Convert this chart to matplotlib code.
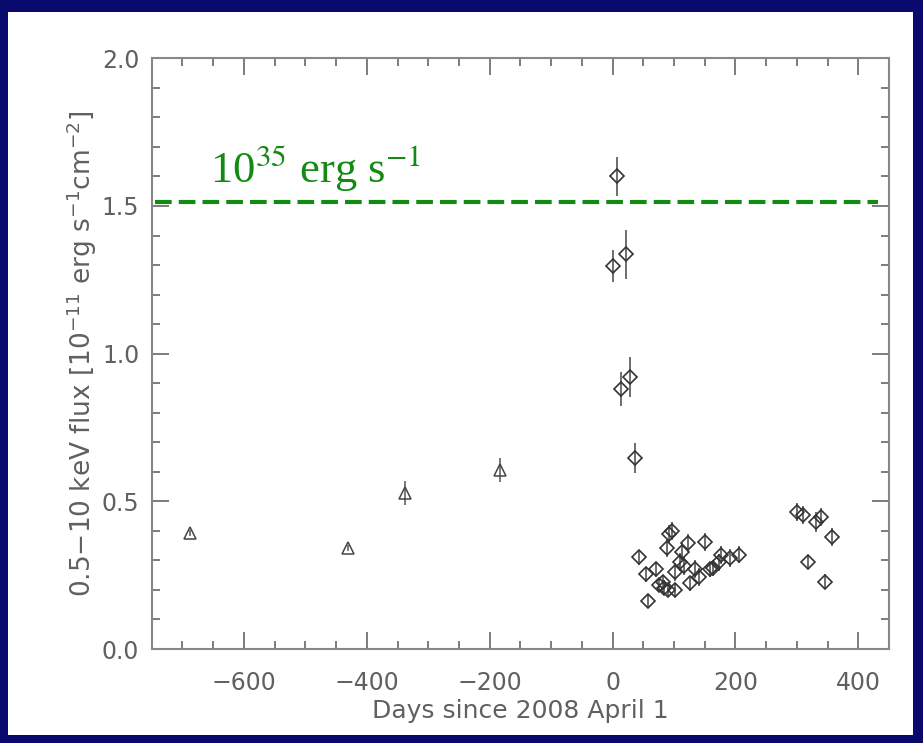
import matplotlib
matplotlib.use("Agg")
import matplotlib.pyplot as plt
from matplotlib.patches import Rectangle
from matplotlib.ticker import MultipleLocator, FormatStrFormatter

# ── data (days since 2008 April 1, flux in 1e-11 erg/s/cm^2) ──────────────────
tri_days = [-688, -430, -338, -183]
tri_flux = [0.393, 0.342, 0.528, 0.606]
tri_err = [0.01, 0.01, 0.04, 0.04]

dia_days = [8, 1, 22, 14, 29, 37,
            43, 57, 54, 71, 75, 84, 82, 90, 88, 92, 96, 101, 101, 110,
            113, 116, 122, 126, 135, 141, 150, 158, 164, 173, 177, 191, 206,
            301, 310, 331, 339, 357, 318, 345]
dia_flux = [1.60, 1.296, 1.337, 0.88, 0.92, 0.646,
            0.31, 0.163, 0.253, 0.27, 0.217, 0.207, 0.227, 0.20, 0.343, 0.39, 0.40, 0.20, 0.26, 0.295,
            0.33, 0.28, 0.358, 0.222, 0.27, 0.243, 0.363, 0.27, 0.273, 0.293, 0.318, 0.307, 0.32,
            0.465, 0.453, 0.43, 0.448, 0.38, 0.295, 0.228]
dia_err = [0.066, 0.054, 0.083, 0.057, 0.068, 0.05,
           0.025, 0.02, 0.025, 0.025, 0.025, 0.025, 0.02, 0.02, 0.03, 0.03, 0.03, 0.025, 0.03, 0.03,
           0.03, 0.03, 0.03, 0.025, 0.03, 0.03, 0.03, 0.025, 0.025, 0.03, 0.03, 0.03, 0.03,
           0.03, 0.03, 0.035, 0.03, 0.03, 0.025, 0.025]

limit_flux = 1.513
limit_label = r"10$^{35}$ erg s$^{-1}$"

NAVY = "#0a0a6e"
GRAY = "#666666"

fig = plt.figure(figsize=(9.23, 7.43), dpi=100, facecolor=NAVY)
fig.patches.append(Rectangle((8 / 923, 8 / 743), 905 / 923, 723 / 743,
                             transform=fig.transFigure, facecolor="white",
                             edgecolor="none", zorder=-5))

ax = fig.add_axes([0.1644, 0.1265, 0.7988, 0.795])

ax.errorbar(tri_days, tri_flux, yerr=tri_err, fmt="^", ms=8, mfc="none",
            mec="#444444", mew=1.1, ecolor="#555555", elinewidth=1.1, capsize=0)
ax.errorbar(dia_days, dia_flux, yerr=dia_err, fmt="D", ms=7.5, mfc="none",
            mec="#333333", mew=1.2, ecolor="#555555", elinewidth=1.2, capsize=0)

ax.axhline(limit_flux, xmin=0.005, xmax=0.985, color="#138a13", lw=3,
           ls=(0, (4, 1.7)))
ax.text(-655, 1.577, limit_label, color="#138a13", fontsize=32,
        family="Liberation Serif", math_fontfamily="stix",
        ha="left", va="baseline")

ax.set_xlim(-750, 450)
ax.set_ylim(0, 2.0)
ax.xaxis.set_major_locator(MultipleLocator(200))
ax.xaxis.set_minor_locator(MultipleLocator(50))
ax.yaxis.set_major_locator(MultipleLocator(0.5))
ax.yaxis.set_minor_locator(MultipleLocator(0.1))
ax.yaxis.set_major_formatter(FormatStrFormatter("%.1f"))

ax.tick_params(which="both", direction="in", top=True, right=True,
               colors=GRAY, labelcolor="#606060", labelsize=17, width=1.2)
ax.tick_params(axis="x", which="major", length=12, pad=16)
ax.tick_params(axis="y", which="major", length=12, pad=9)
ax.tick_params(which="minor", length=6)
for s in ax.spines.values():
    s.set_color("#888888")
    s.set_linewidth(1.5)

ax.set_xlabel("Days since 2008 April 1", fontsize=18, color="#606060", labelpad=3)
ax.set_ylabel(r"0.5$-$10 keV flux [10$^{-11}$ erg s$^{-1}$cm$^{-2}$]",
              fontsize=19, color="#606060")
ax.yaxis.set_label_coords(-0.072, 0.5)

fig.savefig("out.png", dpi=100, facecolor=NAVY)
